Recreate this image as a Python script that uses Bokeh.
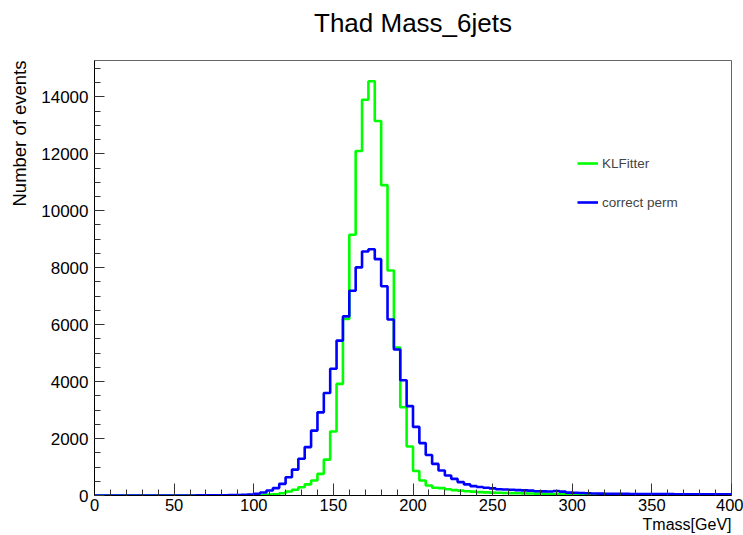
from bokeh.plotting import figure
from bokeh.models import (Range1d, SingleIntervalTicker, FixedTicker, LinearAxis,
                          Legend, LegendItem, Title)
from bokeh.embed import file_html
from bokeh.resources import INLINE

# ---- data: 100 bins of 4 GeV from 0 to 400 ----
bin_width = 4
x_lo, x_hi = 0, 400
y_hi = 15277

klfitter = [
    0, 0, 0, 0, 0, 0, 0, 0, 0, 0,                # 0-40
    0, 0, 0, 0, 0, 1, 1, 2, 2, 3,                # 40-80
    5, 6, 8, 10, 12, 15, 20, 30, 45, 80,         # 80-120
    140, 200, 290, 390, 525, 760, 1260, 2250, 3920, 6200,   # 120-160
    9160, 12100, 13900, 14550, 13150, 10900, 7900, 5200, 3100, 1720,  # 160-200
    860, 525, 350, 270, 260, 220, 190, 170, 150, 135,      # 200-240
    120, 110, 100, 95, 90, 85, 80, 75, 70, 65,     # 240-280
    60, 55, 50, 45, 40, 35, 33, 31, 29, 27,        # 280-320
    25, 24, 23, 22, 21, 20, 19, 18, 17, 16,        # 320-360
    15, 14, 13, 13, 12, 12, 11, 11, 10, 10,        # 360-400
]

correct_perm = [
    0, 0, 0, 0, 0, 0, 0, 0, 0, 0,                # 0-40
    0, 0, 0, 0, 0, 2, 3, 4, 5, 7,                # 40-80
    10, 12, 16, 22, 35, 60, 105, 175, 260, 410,  # 80-120
    640, 910, 1290, 1700, 2280, 2920, 3600, 4450, 5440, 6290,  # 120-160
    7190, 8010, 8570, 8650, 8300, 7350, 6180, 5130, 4050, 3140,  # 160-200
    2410, 1840, 1420, 1110, 880, 700, 585, 470, 390, 330,        # 200-240
    300, 270, 250, 220, 210, 200, 190, 180, 170, 150,            # 240-280
    145, 140, 160, 135, 100, 95, 90, 80, 70, 65,                 # 280-320
    60, 60, 58, 56, 55, 54, 52, 50, 50, 48,                      # 320-360
    47, 46, 45, 45, 44, 43, 42, 42, 41, 40,                      # 360-400
]

series_labels = ["KLFitter", "correct perm"]
title_text = "Thad Mass_6jets"
x_title = "Tmass[GeV]"
y_title = "Number of events"

n_bins = len(klfitter)
edges = [x_lo + i * bin_width for i in range(n_bins + 1)]
kl_y = klfitter + [klfitter[-1]]
cp_y = correct_perm + [correct_perm[-1]]

FONT = "Liberation Sans"

p = figure(width=743, height=535, output_backend="svg", toolbar_location=None,
           title=None,
           x_range=Range1d(x_lo, x_hi), y_range=Range1d(0, y_hi),
           min_border_left=94, min_border_right=12, min_border_top=60, min_border_bottom=40)
p.grid.visible = False
p.outline_line_color = "#666666"
p.outline_line_width = 1
p.background_fill_color = "white"
p.border_fill_color = "white"

g = p.step(x=edges, y=kl_y, mode="after", line_color="#00ff00", line_width=2.6)
b = p.step(x=edges, y=cp_y, mode="after", line_color="#0000ff", line_width=2.6)
dot = p.scatter(x=[], y=[], marker="square", size=2.5, color="black")

xa = p.xaxis[0]
xa.ticker = SingleIntervalTicker(interval=50, num_minor_ticks=5)
xa.major_tick_in = 12
xa.major_tick_out = 0
xa.minor_tick_in = 6
xa.minor_tick_out = 0
xa.major_label_standoff = 3
xa.major_label_text_font = FONT
xa.major_label_text_font_size = "16.5px"
xa.major_label_text_color = "black"
xa.axis_line_color = "black"
xa.major_tick_line_color = "#333333"
xa.minor_tick_line_color = "#333333"

ya = p.yaxis[0]
ya.ticker = SingleIntervalTicker(interval=2000, num_minor_ticks=4)
ya.major_tick_in = 10
ya.major_tick_out = 0
ya.minor_tick_in = 6
ya.minor_tick_out = 0
ya.major_label_standoff = 6
ya.major_label_text_font = FONT
ya.major_label_text_font_size = "17px"
ya.major_label_text_color = "black"
ya.axis_line_color = "black"
ya.major_tick_line_color = "#333333"
ya.minor_tick_line_color = "#333333"
ya.formatter.use_scientific = False

# chart title carried by a bare axis above the frame
top_axis = LinearAxis(ticker=FixedTicker(ticks=[]), axis_line_color=None,
                      major_tick_in=0, major_tick_out=0, minor_tick_in=0, minor_tick_out=0,
                      major_label_text_font_size="1px",
                      axis_label=title_text, axis_label_standoff=23,
                      axis_label_text_font=FONT, axis_label_text_font_size="26px",
                      axis_label_text_font_style="normal", axis_label_text_color="black")
p.add_layout(top_axis, "above")

legend = Legend(items=[LegendItem(label=series_labels[0], renderers=[g, dot]),
                       LegendItem(label=series_labels[1], renderers=[b, dot])],
                location=(483, 283), orientation="vertical",
                label_text_font=FONT, label_text_font_size="13.5px",
                glyph_width=21, glyph_height=20, label_height=20,
                spacing=19, padding=0, margin=0, label_standoff=4,
                border_line_color=None, background_fill_alpha=0)
p.add_layout(legend)

p.add_layout(Title(text=x_title, align="right", text_font=FONT, text_font_size="16px",
                   text_font_style="normal", text_color="black", standoff=0), "below")
p.add_layout(Title(text=y_title, align="right", vertical_align="top", text_font=FONT,
                   text_font_size="18.5px", text_font_style="normal", text_color="black",
                   standoff=14), "left")

open("out.html", "w").write(file_html(p, INLINE))
